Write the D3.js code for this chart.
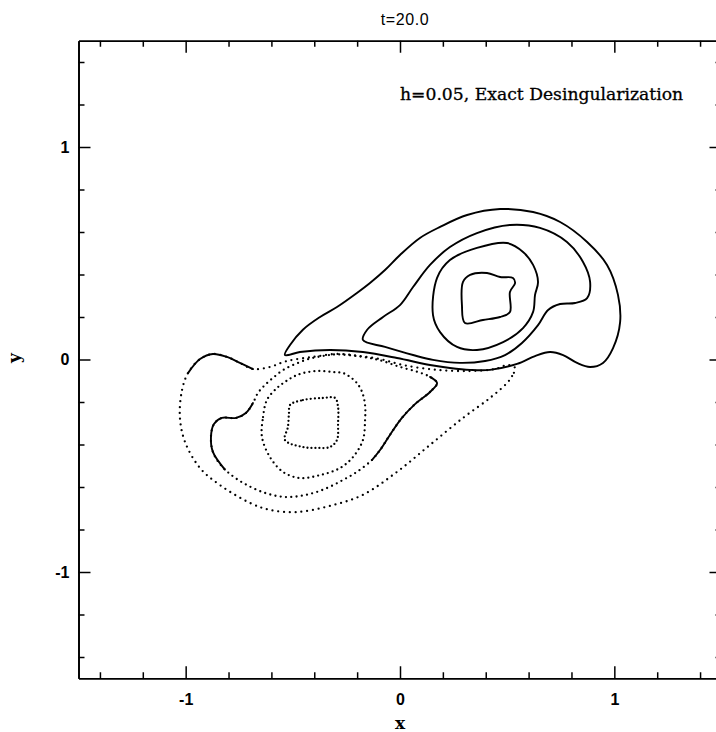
<!DOCTYPE html>
<html>
<head>
  <meta charset="utf-8">
  <title>t=20.0 contours</title>
  <script src="https://d3js.org/d3.v7.min.js"></script>
  <style>
    body { margin: 0; background: #fff; }
    svg { display: block; }
  </style>
</head>
<body>
  <svg width="716" height="732"></svg>
  <script>
    // tick values
    var majorTicks = [-1, 0, 1];
    var minorTicks = [-1.4, -1.2, -0.8, -0.6, -0.4, -0.2, 0.2, 0.4, 0.6, 0.8, 1.2, 1.4];

    // positive vortex, solid contours (outer to inner)
    var pos1 = [[-0.537,0.021],[-0.513,0.068],[-0.453,0.140],[-0.373,0.200],[-0.294,0.247],[-0.201,0.313],[-0.140,0.360],[-0.070,0.421],[0,0.492],[0.093,0.572],[0.187,0.624],[0.313,0.680],[0.467,0.708],[0.621,0.694],[0.747,0.647],[0.873,0.553],[0.966,0.445],[1.017,0.304],[1.027,0.176],[0.994,0.054],[0.947,-0.016],[0.887,-0.035],[0.826,-0.016],[0.761,0.021],[0.700,0.035],[0.630,0.016],[0.546,-0.021],[0.420,-0.049],[0.327,-0.049],[0.233,-0.040],[0.140,-0.026],[-0.014,0.007],[-0.173,0.035],[-0.327,0.045],[-0.467,0.035]];
    var pos2 = [[-0.173,0.092],[-0.154,0.139],[-0.079,0.200],[0,0.256],[0.061,0.341],[0.140,0.445],[0.233,0.529],[0.359,0.595],[0.513,0.633],[0.653,0.619],[0.779,0.553],[0.854,0.459],[0.887,0.365],[0.873,0.289],[0.817,0.266],[0.747,0.261],[0.691,0.233],[0.644,0.162],[0.569,0.078],[0.490,0.021],[0.397,-0.007],[0.280,-0.016],[0.154,-0.002],[0.061,0.021],[-0.070,0.059]];
    var pos3 = [[0.154,0.209],[0.173,0.384],[0.233,0.468],[0.359,0.525],[0.499,0.548],[0.574,0.506],[0.621,0.445],[0.644,0.365],[0.630,0.304],[0.621,0.224],[0.574,0.148],[0.481,0.082],[0.359,0.045],[0.266,0.059],[0.187,0.129]];
    var pos4 = [[0.294,0.365],[0.327,0.398],[0.406,0.407],[0.467,0.388],[0.527,0.384],[0.537,0.360],[0.513,0.318],[0.513,0.224],[0.467,0.200],[0.387,0.186],[0.303,0.172],[0.289,0.256]];

    // negative vortex, dotted contours (outer to inner)
    var neg1 = [[0.537,-0.040],[0.523,-0.078],[0.499,-0.111],[0.420,-0.181],[0.294,-0.275],[0.140,-0.402],[-0.014,-0.529],[-0.173,-0.637],[-0.327,-0.689],[-0.481,-0.718],[-0.607,-0.708],[-0.700,-0.675],[-0.840,-0.591],[-0.933,-0.511],[-1.003,-0.388],[-1.027,-0.271],[-1.017,-0.144],[-0.989,-0.064],[-0.933,0.002],[-0.873,0.026],[-0.807,0.012],[-0.747,-0.016],[-0.686,-0.045],[-0.607,-0.035],[-0.527,-0.007],[-0.406,0.012],[-0.294,0.026],[-0.187,0.016],[-0.093,0.002],[0.014,-0.026],[0.173,-0.049],[0.327,-0.054],[0.443,-0.045],[0.504,-0.026]];
    var neg2 = [[0.173,-0.111],[0.140,-0.153],[0.070,-0.210],[0.009,-0.275],[-0.047,-0.355],[-0.093,-0.426],[-0.131,-0.473],[-0.201,-0.529],[-0.266,-0.567],[-0.350,-0.609],[-0.443,-0.638],[-0.537,-0.647],[-0.630,-0.628],[-0.723,-0.586],[-0.793,-0.539],[-0.840,-0.492],[-0.873,-0.435],[-0.882,-0.365],[-0.868,-0.304],[-0.831,-0.275],[-0.765,-0.275],[-0.719,-0.252],[-0.686,-0.205],[-0.663,-0.158],[-0.630,-0.120],[-0.593,-0.087],[-0.546,-0.050],[-0.490,-0.022],[-0.420,0.004],[-0.350,0.018],[-0.294,0.024],[-0.187,0.014],[-0.093,-0.004],[0,-0.035],[0.084,-0.059],[0.140,-0.082]];
    var neg3 = [[-0.644,-0.365],[-0.639,-0.271],[-0.621,-0.191],[-0.574,-0.134],[-0.537,-0.106],[-0.499,-0.082],[-0.453,-0.064],[-0.383,-0.054],[-0.313,-0.059],[-0.266,-0.064],[-0.233,-0.082],[-0.201,-0.111],[-0.177,-0.153],[-0.163,-0.214],[-0.163,-0.285],[-0.173,-0.379],[-0.219,-0.459],[-0.280,-0.511],[-0.373,-0.544],[-0.467,-0.558],[-0.546,-0.529],[-0.607,-0.459]];
    var neg4 = [[-0.513,-0.214],[-0.453,-0.191],[-0.359,-0.181],[-0.303,-0.181],[-0.289,-0.224],[-0.289,-0.299],[-0.294,-0.379],[-0.327,-0.412],[-0.387,-0.416],[-0.453,-0.412],[-0.537,-0.379],[-0.523,-0.318],[-0.518,-0.252]];

    // stretches of the negative contours where the points crowd into a solid line
    var neg1Dense = [[-0.989,-0.064],[-0.933,0.002],[-0.873,0.026],[-0.807,0.012],[-0.747,-0.016],[-0.686,-0.045]];
    var neg2DenseTip = [[0.140,-0.082],[0.173,-0.111],[0.140,-0.153],[0.070,-0.210],[0.009,-0.275],[-0.047,-0.355],[-0.093,-0.426],[-0.131,-0.473]];
    var neg2DenseLeft = [[-0.817,-0.518],[-0.873,-0.435],[-0.882,-0.365],[-0.868,-0.304],[-0.831,-0.275],[-0.765,-0.275],[-0.719,-0.252],[-0.686,-0.205]];

    var svg = d3.select("svg"),
        margin = {top: 40.75, left: 78.5},
        width = 643,
        height = 637.5;

    var x = d3.scaleLinear().domain([-1.5, 1.5]).range([0, width]),
        y = d3.scaleLinear().domain([-1.5, 1.5]).range([height, 0]);

    var g = svg.append("g")
        .attr("transform", "translate(" + margin.left + "," + margin.top + ")");

    var loopLine = d3.line()
        .x(function(d) { return x(d[0]); })
        .y(function(d) { return y(d[1]); })
        .curve(d3.curveCatmullRomClosed.alpha(0.5));
    var openLine = d3.line()
        .x(function(d) { return x(d[0]); })
        .y(function(d) { return y(d[1]); })
        .curve(d3.curveCatmullRom.alpha(0.5));

    // solid contours
    g.selectAll(".pos")
      .data([pos1, pos2, pos3, pos4])
      .enter().append("path")
      .attr("class", "pos")
      .attr("d", loopLine)
      .attr("fill", "none")
      .attr("stroke", "#000")
      .attr("stroke-width", 1.9)
      .attr("stroke-linejoin", "round");

    // dotted contours, dots get closer toward the core
    var dotGap = ["0 5.8", "0 5.3", "0 5", "0 4"];
    g.selectAll(".neg")
      .data([neg1, neg2, neg3, neg4])
      .enter().append("path")
      .attr("class", "neg")
      .attr("d", loopLine)
      .attr("fill", "none")
      .attr("stroke", "#000")
      .attr("stroke-width", 2.3)
      .attr("stroke-linecap", "round")
      .attr("stroke-dasharray", function(d, i) { return dotGap[i]; });

    g.selectAll(".dense")
      .data([neg1Dense, neg2DenseTip, neg2DenseLeft])
      .enter().append("path")
      .attr("class", "dense")
      .attr("d", openLine)
      .attr("fill", "none")
      .attr("stroke", "#000")
      .attr("stroke-width", 1.9)
      .attr("stroke-linecap", "round");

    // axes: ticks point inward on all four sides
    var fmt = function(d) { return String(d); };

    function styleAxis(sel) {
      sel.select(".domain").attr("stroke-width", 1.7);
      sel.selectAll(".tick line").attr("stroke-width", 1.5);
    }

    g.append("g").attr("transform", "translate(0," + height + ")")
      .call(d3.axisBottom(x).tickValues(minorTicks).tickSize(-6).tickSizeOuter(0).tickFormat(""))
      .call(styleAxis);
    g.append("g").attr("transform", "translate(0," + height + ")")
      .call(d3.axisBottom(x).tickValues(majorTicks).tickSize(-12).tickSizeOuter(0).tickPadding(15).tickFormat(fmt))
      .call(styleAxis);

    g.append("g")
      .call(d3.axisTop(x).tickValues(minorTicks).tickSize(-6).tickSizeOuter(0).tickFormat(""))
      .call(styleAxis);
    g.append("g")
      .call(d3.axisTop(x).tickValues(majorTicks).tickSize(-12).tickSizeOuter(0).tickFormat(""))
      .call(styleAxis);

    g.append("g")
      .call(d3.axisLeft(y).tickValues(minorTicks).tickSize(-6).tickSizeOuter(0).tickFormat(""))
      .call(styleAxis);
    g.append("g")
      .call(d3.axisLeft(y).tickValues(majorTicks).tickSize(-12).tickSizeOuter(0).tickPadding(9).tickFormat(fmt))
      .call(styleAxis);

    g.append("g").attr("transform", "translate(" + width + ",0)")
      .call(d3.axisRight(y).tickValues(minorTicks).tickSize(-6).tickSizeOuter(0).tickFormat(""))
      .call(styleAxis);
    g.append("g").attr("transform", "translate(" + width + ",0)")
      .call(d3.axisRight(y).tickValues(majorTicks).tickSize(-12).tickSizeOuter(0).tickFormat(""))
      .call(styleAxis);

    g.selectAll(".tick text")
      .attr("font-family", "'Liberation Sans', Arial, sans-serif")
      .attr("font-size", 16)
      .attr("font-weight", "bold")
      .attr("fill", "#000");

    // titles and axis labels
    svg.append("text")
      .attr("x", 405).attr("y", 25)
      .attr("text-anchor", "middle")
      .attr("font-family", "'Liberation Sans', Arial, sans-serif")
      .attr("font-size", 16)
      .attr("letter-spacing", 0.6)
      .text("t=20.0");

    g.append("text")
      .attr("x", x(0)).attr("y", 100 - margin.top)
      .attr("font-family", "'DejaVu Serif', serif")
      .attr("font-size", 17.2)
      .attr("stroke", "#000")
      .attr("stroke-width", 0.3)
      .text("h=0.05, Exact Desingularization");

    svg.append("text")
      .attr("x", 400).attr("y", 729)
      .attr("text-anchor", "middle")
      .attr("font-family", "'DejaVu Serif', serif")
      .attr("font-weight", "bold")
      .attr("font-size", 17)
      .text("x");

    svg.append("text")
      .attr("transform", "translate(20,358) rotate(-90)")
      .attr("text-anchor", "middle")
      .attr("font-family", "'DejaVu Serif', serif")
      .attr("font-weight", "bold")
      .attr("font-size", 17)
      .text("y");
  </script>
</body>
</html>
